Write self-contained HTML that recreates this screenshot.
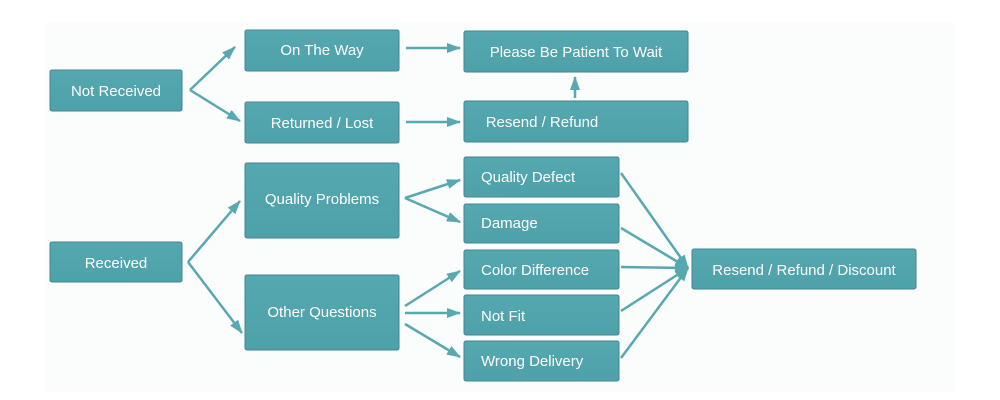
<!DOCTYPE html>
<html><head><meta charset="utf-8"><style>
html,body{margin:0;padding:0;background:#fff;}
svg{display:block;}
text{font-family:"Liberation Sans",Arial,sans-serif;font-size:15px;fill:#fff;}
</style></head><body>
<svg width="1000" height="400" viewBox="0 0 1000 400" xmlns="http://www.w3.org/2000/svg">
<defs>
<marker id="a" viewBox="0 0 14 10" refX="13" refY="5" markerWidth="14" markerHeight="10" markerUnits="userSpaceOnUse" orient="auto">
<path d="M0,0 L14,5 L0,10 Z" fill="#58a8b0"/>
</marker>
<linearGradient id="g" x1="0" y1="0" x2="0" y2="1"><stop offset="0" stop-color="#56a8b0"/><stop offset="1" stop-color="#4ea1a9"/></linearGradient>
</defs>
<rect x="45" y="22" width="910" height="370" fill="#fbfcfc"/>
<g fill="url(#g)" stroke="#3f8890" stroke-width="1">
<rect x="50" y="70" width="132" height="41" rx="2"/>
<rect x="245" y="30" width="154" height="41" rx="2"/>
<rect x="245" y="102" width="154" height="41" rx="2"/>
<rect x="464" y="31" width="224" height="41" rx="2"/>
<rect x="464" y="101" width="224" height="41" rx="2"/>
<rect x="245" y="163" width="154" height="75" rx="2"/>
<rect x="245" y="275" width="154" height="75" rx="2"/>
<rect x="50" y="242" width="132" height="40" rx="2"/>
<rect x="464" y="157" width="155" height="40" rx="2"/>
<rect x="464" y="204" width="155" height="39" rx="2"/>
<rect x="464" y="250" width="155" height="39" rx="2"/>
<rect x="464" y="295" width="155" height="40" rx="2"/>
<rect x="464" y="341" width="155" height="40" rx="2"/>
<rect x="692" y="249" width="224" height="40" rx="2"/>
</g>
<g text-anchor="middle">
<text x="116" y="96">Not Received</text>
<text x="322" y="55">On The Way</text>
<text x="322" y="128">Returned / Lost</text>
<text x="576" y="57">Please Be Patient To Wait</text>
<text x="542" y="127">Resend / Refund</text>
<text x="322" y="204">Quality Problems</text>
<text x="322" y="317">Other Questions</text>
<text x="116" y="268">Received</text>
<text x="804" y="275">Resend / Refund / Discount</text>
</g>
<g>
<text x="481" y="182">Quality Defect</text>
<text x="481" y="228">Damage</text>
<text x="481" y="275">Color Difference</text>
<text x="481" y="321">Not Fit</text>
<text x="481" y="366">Wrong Delivery</text>
</g>
<g stroke="#58a8b0" stroke-width="2.5" fill="none" marker-end="url(#a)">
<path d="M190,90 L235,47"/>
<path d="M190,90 L240,121"/>
<path d="M406,48 L460,48"/>
<path d="M406,122 L460,122"/>
<path d="M575,98 L575,77"/>
<path d="M188,262 L240,201"/>
<path d="M188,262 L242,333"/>
<path d="M405,198 L460,180"/>
<path d="M405,198 L460,222"/>
<path d="M405,306 L460,271"/>
<path d="M405,313 L460,313"/>
<path d="M405,324 L460,357"/>
<path d="M621,173 L688,268"/>
<path d="M621,228 L688,268"/>
<path d="M621,267 L688,268"/>
<path d="M621,311 L688,268"/>
<path d="M621,358 L688,268"/>
</g>
</svg>
</body></html>
